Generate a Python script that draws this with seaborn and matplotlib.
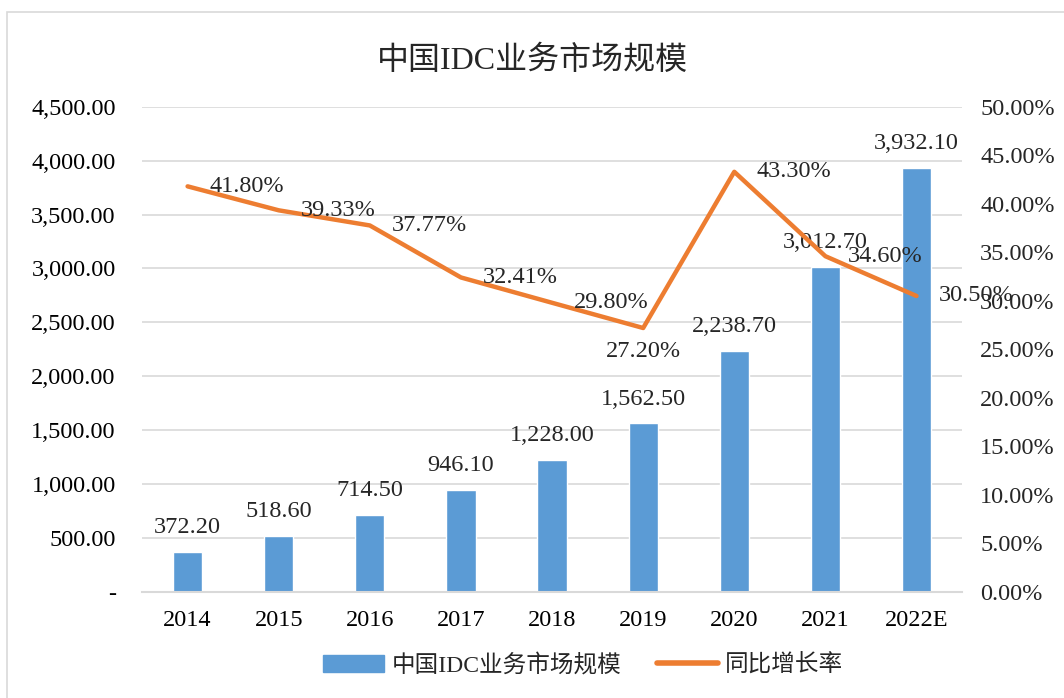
import numpy as np
import pandas as pd
import matplotlib
matplotlib.use('Agg')
import matplotlib.pyplot as plt
import matplotlib.patches as mpatches
from matplotlib.lines import Line2D
from matplotlib.ticker import FuncFormatter
import seaborn as sns

years = ['2014', '2015', '2016', '2017', '2018', '2019', '2020', '2021', '2022E']
scale = [372.20, 518.60, 714.50, 946.10, 1228.00, 1562.50, 2238.70, 3012.70, 3932.10]  # 亿元
growth = [41.80, 39.33, 37.77, 32.41, 29.80, 27.20, 43.30, 34.60, 30.50]  # %
left_ticks = [0, 500, 1000, 1500, 2000, 2500, 3000, 3500, 4000, 4500]
right_ticks = [0, 5, 10, 15, 20, 25, 30, 35, 40, 45, 50]

bar_name = '中国IDC业务市场规模'
line_name = '同比增长率'
bar_color = '#5B9BD5'
line_color = '#ED7D31'
fs = 17.5

df = pd.DataFrame({'year': years, 'scale': scale, 'growth': growth})

sns.set_theme(style='white')
plt.rcParams['font.family'] = ['Liberation Serif', 'Noto Sans CJK SC']
plt.rcParams['axes.unicode_minus'] = False

fig = plt.figure(figsize=(10.64, 6.98), dpi=100)
ax = fig.add_axes([0.1335, 0.152, 0.7707, 0.695])

# 柱状图
sns.barplot(data=df, x='year', y='scale', color=bar_color, width=0.32,
            saturation=1, ax=ax, zorder=2)
ax.set_ylim(0, 4500)
ax.set_xlim(-0.5, len(years) - 0.5)
ax.set_yticks(left_ticks)
ax.yaxis.set_major_formatter(FuncFormatter(lambda v, p: '-' if v == 0 else f'{v:,.2f}'))
ax.grid(axis='y', color='#D9D9D9', linewidth=1.2, zorder=0)
ax.set_axisbelow(True)
for s in ['top', 'right', 'left']:
    ax.spines[s].set_visible(False)
ax.spines['bottom'].set_color('#D9D9D9')
ax.spines['bottom'].set_linewidth(1.5)
ax.tick_params(axis='both', length=0, labelsize=fs, colors='black')
ax.tick_params(axis='y', pad=19)
ax.tick_params(axis='x', pad=13)
ax.set_xlabel('')
ax.set_ylabel('')

for i, v in enumerate(scale):
    ax.annotate(f'{v:,.2f}', (i, v), xytext=(0, 10), textcoords='offset points',
                ha='center', va='bottom', fontsize=fs)

# 折线图
ax2 = ax.twinx()
sns.lineplot(data=df, x='year', y='growth', sort=False, color=line_color,
             linewidth=3.2, ax=ax2, zorder=3)
ax2.set_ylim(0, 50)
ax2.set_yticks(right_ticks)
ax2.yaxis.set_major_formatter(FuncFormatter(lambda v, p: f'{v:.2f}%'))
for s in ax2.spines.values():
    s.set_visible(False)
ax2.tick_params(axis='y', length=0, labelsize=fs, pad=13)
ax2.set_ylabel('')
ax2.grid(False)

for i, v in enumerate(growth):
    if years[i] == '2019':
        ax2.annotate(f'{v:.2f}%', (i, v), xytext=(0, -9), textcoords='offset points',
                     ha='center', va='top', fontsize=fs)
    else:
        ax2.annotate(f'{v:.2f}%', (i, v), xytext=(16, 0), textcoords='offset points',
                     ha='left', va='center', fontsize=fs)

fig.suptitle(bar_name, y=0.935, fontsize=23)

handles = [mpatches.Patch(color=bar_color, label=bar_name),
           Line2D([0], [0], color=line_color, linewidth=4, label=line_name)]
fig.legend(handles=handles, loc='center', bbox_to_anchor=(0.548, 0.047), ncol=2,
           frameon=False, fontsize=17, handlelength=2.6, columnspacing=1.5,
           handletextpad=0.3)

# 外框
fig.patches.append(mpatches.Rectangle((0.007, -0.1), 1.2, 1 - 12 / 698 + 0.1,
                                      transform=fig.transFigure, fill=False,
                                      edgecolor='#D9D9D9', linewidth=1.2))

fig.savefig('out.png', dpi=100)
